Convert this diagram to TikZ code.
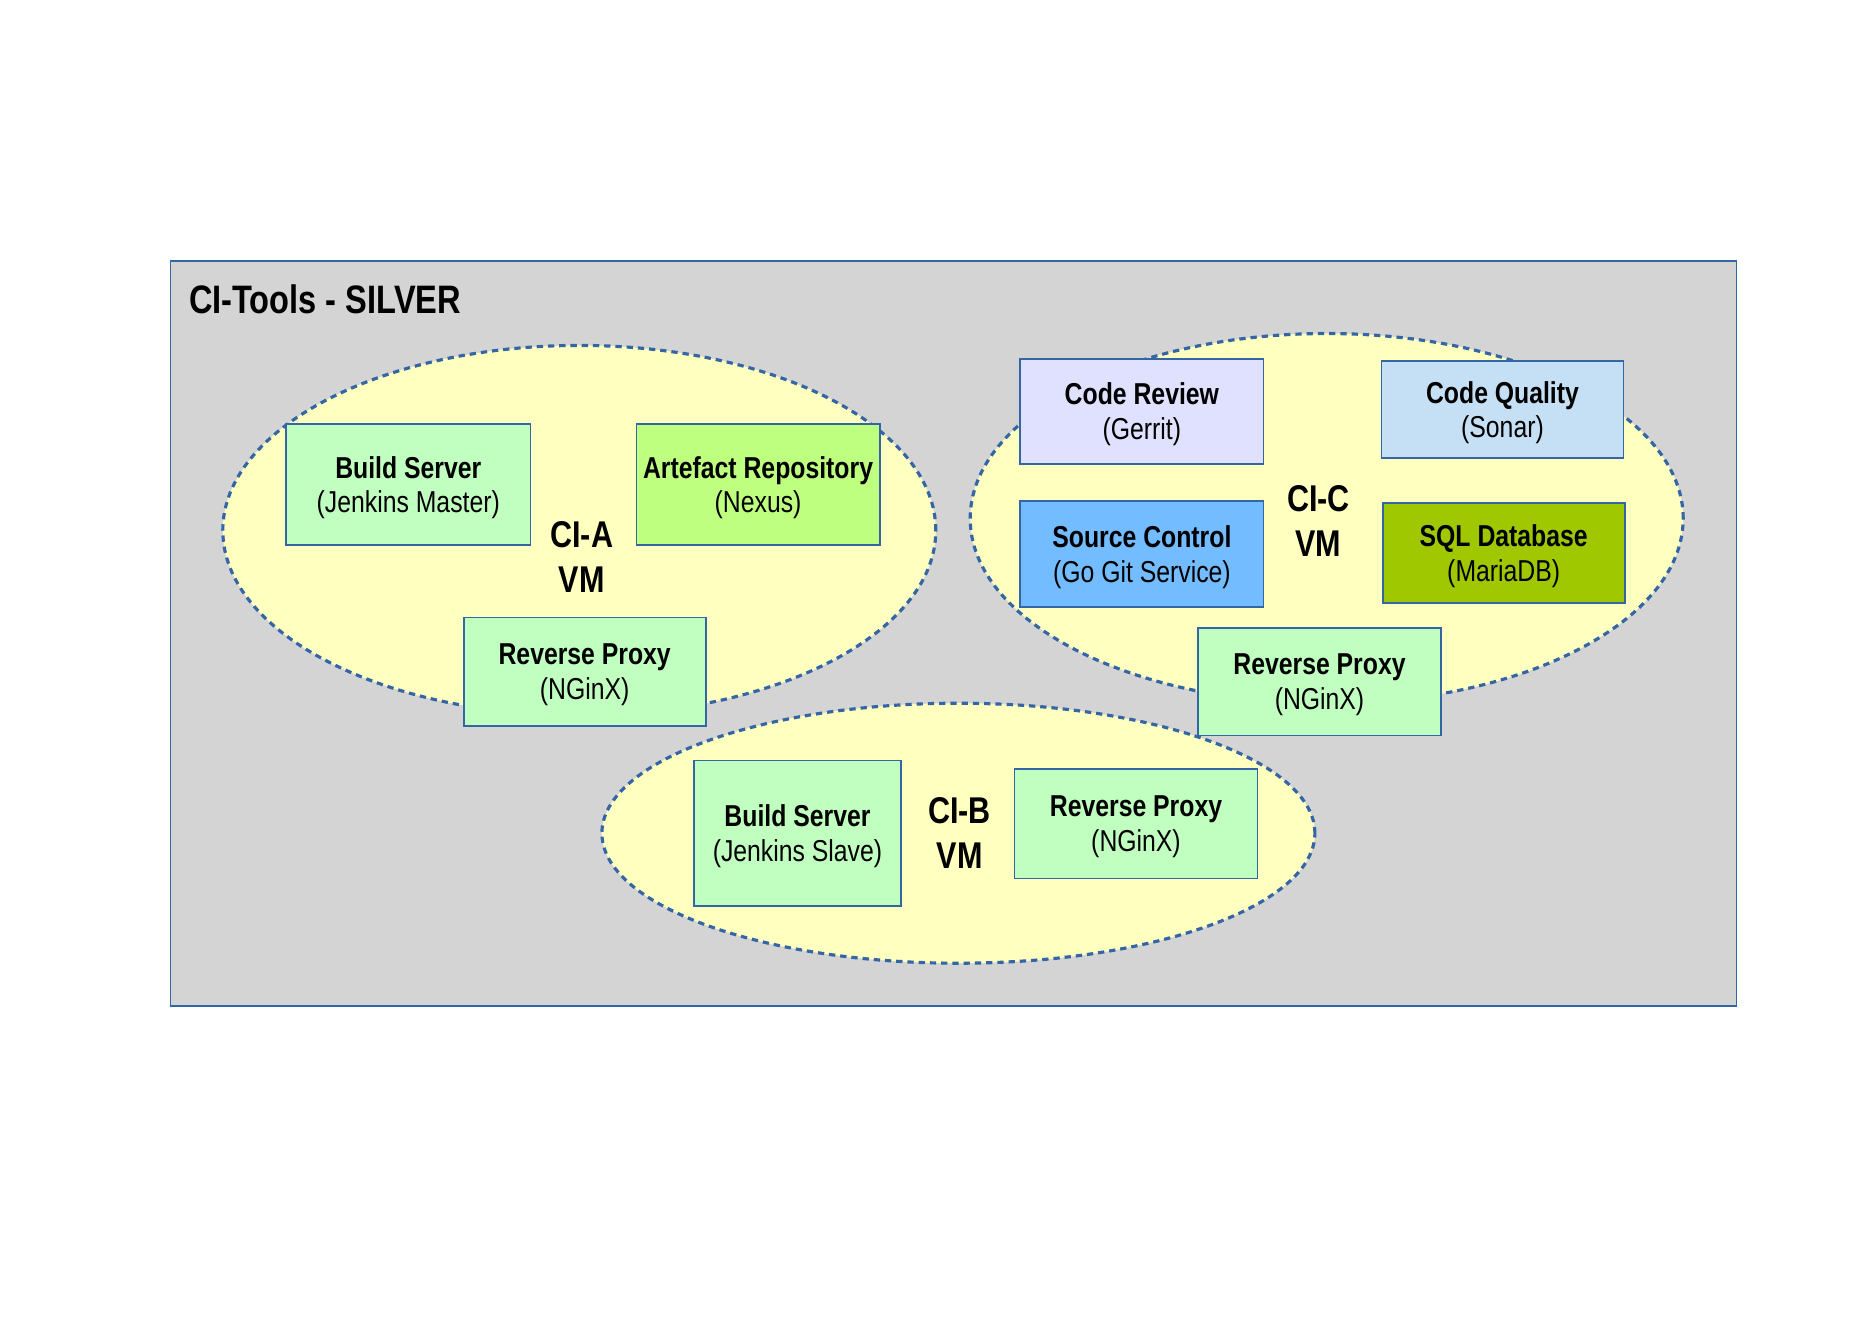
\documentclass[tikz,border=0pt]{standalone}
\usepackage{fontspec}
\setmainfont{Liberation Sans}[FakeStretch=0.82]
\usetikzlibrary{shapes.geometric}
\definecolor{lineblue}{HTML}{3465A4}
\definecolor{panelgray}{HTML}{D4D4D4}
\definecolor{vmyellow}{HTML}{FFFFC0}
\definecolor{svcgreen}{HTML}{C0FFC0}
\definecolor{repogreen}{HTML}{BFFF80}
\definecolor{reviewlilac}{HTML}{E0E0FF}
\definecolor{qualityblue}{HTML}{C5E0F4}
\definecolor{gitblue}{HTML}{72BCFF}
\definecolor{sqllime}{HTML}{A0C800}
\begin{document}
\begin{tikzpicture}[
  panel/.style={draw=lineblue, fill=panelgray, line width=0.5pt, inner sep=0pt},
  vm/.style={ellipse, draw=lineblue, fill=vmyellow, line width=0.9pt,
    dash pattern=on 1.8pt off 1.4pt, inner sep=0pt, minimum width=7.13cm},
  svc/.style={draw=lineblue, line width=0.5pt, align=center, inner sep=0pt,
    text depth=0pt, font=\fontsize{8.6}{9.9}\selectfont},
  vmlabel/.style={align=center, font=\bfseries\fontsize{10.6}{12.9}\selectfont}
]
\useasboundingbox (0,0) rectangle (18.69,-13.21);
\node[panel, minimum width=15.66cm, minimum height=7.45cm] (silver) at (9.536,-6.335) {};
\node[anchor=west, inner sep=0pt, font=\bfseries\fontsize{11.3}{13}\selectfont] (title) at (1.883,-2.992) {CI-Tools - SILVER};
% the three VMs
\node[vm, minimum height=3.70cm] (vmA) at (5.793,-5.304) {};
\node[vm, minimum height=3.70cm] (vmC) at (13.267,-5.185) {};
\node[vm, minimum height=2.60cm] (vmB) at (9.584,-8.332) {};
\node[vmlabel] (labA) at (5.817,-5.567) {CI-A\\VM};
\node[vmlabel] (labC) at (13.184,-5.210) {CI-C\\VM};
\node[vmlabel] (labB) at (9.596,-8.332) {CI-B\\VM};
% CI-A
\node[svc, fill=svcgreen, minimum width=2.444cm, minimum height=1.204cm] (buildA) at (4.083,-4.845) {\textbf{Build Server}\\(Jenkins Master)};
\node[svc, fill=repogreen, minimum width=2.432cm, minimum height=1.204cm] (nexus) at (7.581,-4.845) {\textbf{Artefact Repository}\\(Nexus)};
\node[svc, fill=svcgreen, minimum width=2.420cm, minimum height=1.085cm] (proxyA) at (5.847,-6.717) {\textbf{Reverse Proxy}\\(NGinX)};
% CI-C
\node[svc, fill=reviewlilac, minimum width=2.432cm, minimum height=1.049cm] (gerrit) at (11.419,-4.112) {\textbf{Code Review}\\(Gerrit)};
\node[svc, fill=qualityblue, minimum width=2.420cm, minimum height=0.966cm] (sonar) at (15.025,-4.095) {\textbf{Code Quality}\\(Sonar)};
\node[svc, fill=gitblue, minimum width=2.432cm, minimum height=1.061cm] (gogs) at (11.419,-5.537) {\textbf{Source Control}\\(Go Git Service)};
\node[svc, fill=sqllime, minimum width=2.420cm, minimum height=1.001cm] (mariadb) at (15.037,-5.531) {\textbf{SQL Database}\\(MariaDB)};
\node[svc, fill=svcgreen, minimum width=2.432cm, minimum height=1.073cm] (proxyC) at (13.195,-6.818) {\textbf{Reverse Proxy}\\(NGinX)};
% CI-B
\node[svc, fill=svcgreen, minimum width=2.074cm, minimum height=1.454cm] (buildB) at (7.975,-8.332) {\textbf{Build Server}\\(Jenkins Slave)};
\node[svc, fill=svcgreen, minimum width=2.432cm, minimum height=1.097cm] (proxyB) at (11.360,-8.237) {\textbf{Reverse Proxy}\\(NGinX)};
\end{tikzpicture}
\end{document}
